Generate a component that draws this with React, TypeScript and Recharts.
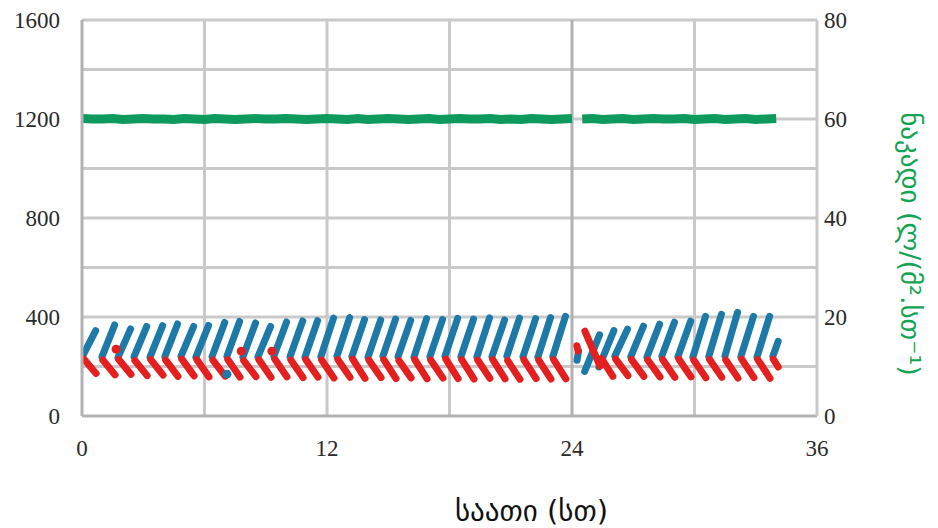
import React from 'react';
import { ComposedChart, Line, Scatter, XAxis, YAxis, ReferenceLine } from 'recharts';

// hour at which each chevron starts (two runs, break around 24 h)
const cycleHours = [
  0.05, 0.98, 1.76, 2.55, 3.33, 4.06, 4.85, 5.58, 6.37, 7.1, 7.88, 8.62, 9.4, 10.19, 10.92, 11.7,
  12.49, 13.22, 14.01, 14.74, 15.48, 16.26, 17.04, 17.78, 18.56, 19.34, 20.08, 20.81, 21.6, 22.33, 23.06,
  26.1, 26.88, 27.67, 28.4, 29.19, 29.92, 30.7, 31.49, 32.27, 33.06,
];
const blueLow = [
  246, 240, 236, 240, 238, 240, 242, 238, 240, 242, 238, 240, 242, 240, 238, 240,
  242, 240, 238, 242, 240, 238, 240, 242, 240, 238, 240, 242, 240, 238, 240,
  242, 240, 238, 242, 240, 238, 240, 242, 240, 238,
];
const blueHigh = [
  345, 368, 352, 362, 365, 372, 362, 366, 378, 382, 376, 362, 380, 384, 385, 396,
  398, 390, 388, 392, 386, 394, 390, 395, 392, 397, 388, 396, 394, 398, 403,
  351, 363, 371, 379, 383, 403, 411, 419, 403, 403,
];
const redHigh = [
  230, 226, 228, 224, 228, 226, 230, 228, 226, 228, 224, 228, 230, 226, 228, 226,
  228, 230, 226, 228, 224, 228, 226, 230, 228, 226, 228, 224, 228, 226, 228,
  230, 228, 226, 228, 230, 226, 228, 226, 230, 228,
];
const redLow = [
  172, 166, 168, 163, 165, 160, 162, 158, 161, 157, 159, 156, 158, 155, 157, 153,
  156, 152, 155, 151, 154, 150, 153, 151, 149, 152, 150, 148, 151, 149, 150,
  163, 160, 158, 156, 158, 154, 156, 153, 155, 152,
];
const BLUE_SPAN = 0.62;
const RED_SPAN = 0.6;
const RED_LAG = 0.04;

// irregular strokes around the restart and the final partial cycle: [t0, v0, t1, v1]
const blueExtra = [
  [24.25, 225, 24.32, 262],
  [24.62, 180, 25.35, 328],
  [25.32, 198, 26.05, 345],
  [33.84, 242, 34.1, 302],
];
const redExtra = [
  [24.24, 284, 24.3, 262],
  [24.63, 343, 25.37, 202],
  [25.45, 232, 26.0, 160],
  [33.86, 230, 34.1, 198],
];

// scattered single readings
const blueStray = [[7.1, 169]];
const redStray = [[1.67, 270], [7.8, 262], [9.3, 262]];

// flux, sampled every half hour
const FLUX_STEP = 0.5;
const fluxRun1 = [
  60.1, 60.0, 60.0, 60.1, 59.9, 60.0, 60.1, 60.0, 60.0, 59.9,
  60.1, 60.0, 59.9, 60.1, 60.0, 59.9, 60.0, 60.1, 60.0, 60.0,
  60.1, 60.0, 59.9, 60.0, 60.1, 60.0, 59.9, 60.1, 59.9, 60.0,
  60.1, 60.0, 59.9, 60.0, 60.1, 59.9, 60.0, 60.1, 60.0, 60.0,
  60.1, 59.9, 60.0, 59.9, 60.1, 60.0, 59.9, 60.0, 60.1,
];
const fluxRun2Start = 24.5;
const fluxRun2 = [
  60.0, 60.1, 59.9, 60.0, 60.1, 59.9, 60.0, 60.1, 60.0, 60.0,
  60.1, 59.9, 60.0, 60.1, 59.9, 60.0, 60.1, 59.9, 60.0, 60.1,
];

const xTicks = [0, 12, 24, 36];
const leftTicks = [0, 400, 800, 1200, 1600];
const rightTicks = [0, 20, 40, 60, 80];
const gridHours = [6, 12, 18, 24, 30];
const gridLevels = [200, 400, 600, 800, 1000, 1200, 1400];

type Pt = { t: number; v: number | null };

const strokes = (starts: number[], from: number[], to: number[], lag: number, span: number): Pt[] =>
  starts.flatMap((t, i) => [
    { t: t + lag, v: from[i] },
    { t: t + lag + span, v: to[i] },
    { t: t + lag + span, v: null },
  ]);

const extraStrokes = (list: number[][]): Pt[] =>
  list.flatMap(([t0, v0, t1, v1]) => [
    { t: t0, v: v0 },
    { t: t1, v: v1 },
    { t: t1, v: null },
  ]);

const blueData = [...strokes(cycleHours, blueLow, blueHigh, 0, BLUE_SPAN), ...extraStrokes(blueExtra)];
const redData = [...strokes(cycleHours, redHigh, redLow, RED_LAG, RED_SPAN), ...extraStrokes(redExtra)];
const blueStrayData = blueStray.map(([t, v]) => ({ t, v }));
const redStrayData = redStray.map(([t, v]) => ({ t, v }));

const fluxData: Pt[] = [
  ...fluxRun1.map((v, i) => ({ t: i * FLUX_STEP, v })),
  { t: 24.3, v: null },
  ...fluxRun2.map((v, i) => ({ t: fluxRun2Start + i * FLUX_STEP, v })),
];

const BLUE = '#1d7aa8';
const RED = '#e3201f';
const GREEN = '#0e9a5c';
const GRID = '#c9c9c9';
const FRAME = '#b2b2b2';
const SERIF = '"Liberation Serif", "Times New Roman", serif';
const GEO = '"DejaVu Sans", sans-serif';

// serif tick labels, placed by hand relative to the tick point
const makeTick = (anchor: 'start' | 'middle' | 'end', dx: number, dy: number) => (props: any) => {
  const { x, y, payload } = props;
  return (
    <text
      x={x + dx}
      y={y + dy}
      textAnchor={anchor}
      dominantBaseline="central"
      style={{ fontFamily: SERIF, fontSize: 23, fill: '#2a2a2a' }}
    >
      {payload.value}
    </text>
  );
};
const bottomTick = makeTick('middle', 0, 30);
const leftTick = makeTick('end', -20, 0);
const rightTick = makeTick('start', 5, 0);

const XTitle = ({ viewBox }: any) => (
  <text
    x={viewBox.x + viewBox.width / 2 + 82}
    y={viewBox.y + 95}
    textAnchor="middle"
    dominantBaseline="central"
    style={{ fontFamily: GEO, fontSize: 29, fill: '#111' }}
  >
    საათი (სთ)
  </text>
);

const RightTitle = ({ viewBox }: any) => {
  const x = viewBox.x + 93;
  const y = viewBox.y + viewBox.height / 2 + 26;
  return (
    <text
      x={x}
      y={y}
      transform={`rotate(90, ${x}, ${y})`}
      textAnchor="middle"
      dominantBaseline="central"
      style={{ fontFamily: GEO, fontSize: 27, fill: '#14a352' }}
    >
      ნაკადი (ლ/(მ².სთ⁻¹)
    </text>
  );
};

export default function App() {
  return (
    <div style={{ position: 'absolute', left: 0, top: 0, background: '#fff' }}>
      <ComposedChart width={938} height={528} margin={{ top: 20, right: 0, bottom: 0, left: 0 }}>
        <XAxis
          type="number"
          dataKey="t"
          domain={[0, 36]}
          ticks={xTicks}
          height={112}
          tickSize={0}
          tick={bottomTick}
          axisLine={{ stroke: FRAME, strokeWidth: 3 }}
          allowDataOverflow
          label={<XTitle />}
        />
        <YAxis
          yAxisId="left"
          type="number"
          domain={[0, 1600]}
          ticks={leftTicks}
          width={82}
          tickSize={0}
          tick={leftTick}
          axisLine={{ stroke: FRAME, strokeWidth: 3 }}
        />
        <YAxis
          yAxisId="right"
          orientation="right"
          type="number"
          domain={[0, 80]}
          ticks={rightTicks}
          width={121}
          tickSize={0}
          tick={rightTick}
          axisLine={{ stroke: GRID, strokeWidth: 3 }}
          label={<RightTitle />}
        />

        {gridLevels.map((g) => (
          <ReferenceLine key={`h${g}`} yAxisId="left" y={g} stroke={GRID} strokeWidth={3} />
        ))}
        <ReferenceLine yAxisId="left" y={1600} stroke={GRID} strokeWidth={3} />
        {gridHours.map((h) => (
          <ReferenceLine key={`v${h}`} yAxisId="left" x={h} stroke={h === 24 ? FRAME : GRID} strokeWidth={3} />
        ))}

        <Line
          yAxisId="right"
          data={fluxData}
          dataKey="v"
          stroke={GREEN}
          strokeWidth={9}
          dot={false}
          isAnimationActive={false}
        />
        <Line
          yAxisId="left"
          data={blueData}
          dataKey="v"
          stroke={BLUE}
          strokeWidth={7}
          strokeLinecap="round"
          dot={false}
          isAnimationActive={false}
        />
        <Line
          yAxisId="left"
          data={redData}
          dataKey="v"
          stroke={RED}
          strokeWidth={7}
          strokeLinecap="round"
          dot={false}
          isAnimationActive={false}
        />
        <Scatter yAxisId="left" data={blueStrayData} dataKey="v" fill={BLUE} shape="circle" isAnimationActive={false} />
        <Scatter yAxisId="left" data={redStrayData} dataKey="v" fill={RED} shape="circle" isAnimationActive={false} />
      </ComposedChart>
    </div>
  );
}
